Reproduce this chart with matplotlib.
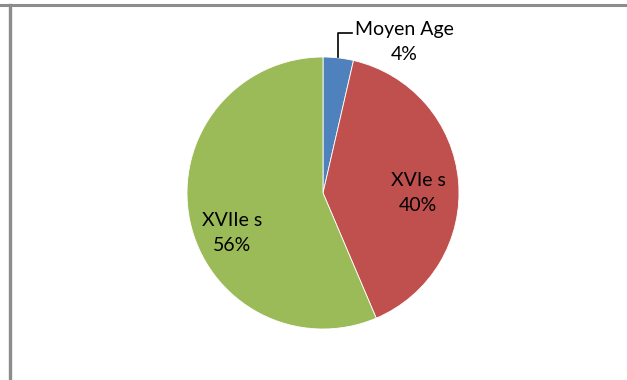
import matplotlib
matplotlib.use('Agg')
import matplotlib.pyplot as plt
from matplotlib.lines import Line2D

plt.rcParams['font.family'] = ['Lato', 'DejaVu Sans']

periodes = ['Moyen Age', 'XVIe s', 'XVIIe s']
parts = [3.6, 40.0, 56.4]
couleurs = ['#4F81BD', '#C0504D', '#9BBB59']

W, H = 627, 380
CX, CY, R = 323, 193, 136  # centre et rayon du camembert (px)

fig = plt.figure(figsize=(W / 100, H / 100), dpi=100)
fig.patch.set_facecolor('white')

# cadre gris (haut et gauche)
fig.add_artist(Line2D([0, 1], [1 - 4.5 / H] * 2, color='#8c8c8c', lw=2.2))
fig.add_artist(Line2D([10 / W] * 2, [0, 1 - 4.5 / H], color='#8c8c8c', lw=2.4))

ax = fig.add_axes([(CX - R) / W, (H - CY - R) / H, 2 * R / W, 2 * R / H])
ax.pie(parts, colors=couleurs, startangle=90, counterclock=False,
       wedgeprops=dict(edgecolor='white', linewidth=0.6))
ax.set_xlim(-1, 1)
ax.set_ylim(-1, 1)
ax.set_aspect('equal')
ax.axis('off')


def px(x, y):
    return (x - CX) / R, (CY - y) / R


def lbl(i):
    return f'{periodes[i]}\n{round(parts[i]):.0f}%'


txt = dict(ha='center', va='center', fontsize=14, linespacing=1.6, color='black')

# étiquette extérieure avec ligne de rappel
x0, y0 = px(338, 57)
x1, y1 = px(338, 33)
x2, _ = px(352, 33)
ax.plot([x0, x1, x2], [y0, y1, y1], color='black', lw=1.2, clip_on=False)
ax.text(*px(404, 42), lbl(0), clip_on=False, **txt)

ax.text(*px(418, 193), lbl(1), **txt)
ax.text(*px(232, 233), lbl(2), **txt)

fig.savefig('out.png', dpi=100, facecolor='white')
